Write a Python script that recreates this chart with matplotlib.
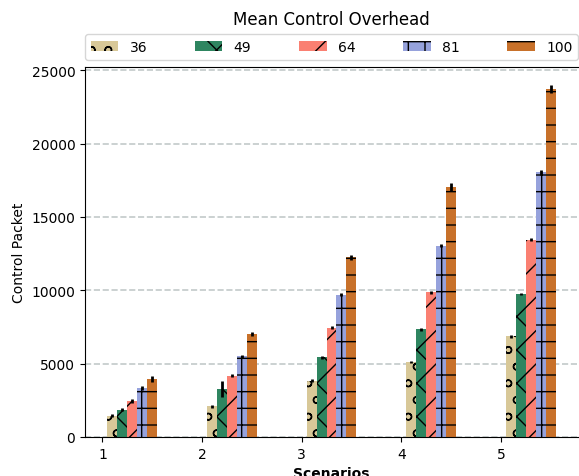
import matplotlib
matplotlib.use("Agg")
import matplotlib.pyplot as plt
import numpy as np

scenarios = [1, 2, 3, 4, 5]
series_labels = ["36", "49", "64", "81", "100"]
vals_36 = [1450, 2110, 3850, 5130, 6860]
vals_49 = [1860, 3270, 5420, 7330, 9740]
vals_64 = [2470, 4180, 7460, 9860, 13440]
vals_81 = [3340, 5500, 9700, 13050, 18030]
vals_100 = [3970, 7000, 12240, 17050, 23750]
err_36 = [120, 100, 100, 80, 100]
err_49 = [120, 550, 120, 80, 80]
err_64 = [120, 100, 100, 100, 100]
err_81 = [120, 100, 120, 120, 200]
err_100 = [200, 140, 150, 260, 270]

colors = ["#d8c898", "#2e8560", "#fa8072", "#96a2dc", "#c8712a"]
hatches = ["o", "x", "/", "+", "-"]

fig = plt.figure(figsize=(5.79, 4.77), dpi=100)
ax = fig.add_axes([85/579, 39/477, (578-85)/579, (438-68)/477])

x = np.array(scenarios, dtype=float)
width = 0.1
all_vals = [vals_36, vals_49, vals_64, vals_81, vals_100]
all_errs = [err_36, err_49, err_64, err_81, err_100]
for i, (v, e) in enumerate(zip(all_vals, all_errs)):
    ax.bar(x + width * (i + 1), v, width, yerr=e, color=colors[i], hatch=hatches[i],
           edgecolor="black", linewidth=0, label=series_labels[i], zorder=2,
           error_kw=dict(ecolor="black", elinewidth=2, capsize=0, zorder=3))

ax.set_xticks(scenarios)
ax.set_yticks([0, 5000, 10000, 15000, 20000, 25000])
ax.yaxis.grid(True, linestyle="--", color="#c2caca", linewidth=1.2, zorder=0)
ax.set_axisbelow(True)
ax.set_xlabel("Scenarios", fontweight="bold", fontsize=10)
ax.set_ylabel("Control Packet", fontsize=10)
ax.spines["right"].set_visible(False)
ax.legend(loc="lower left", bbox_to_anchor=(0, 1.02, 1, 0.1), ncol=5, mode="expand",
          borderaxespad=0, fontsize=10)
fig.text((85+578)/2/579, 1 - 20/477, "Mean Control Overhead", ha="center", va="center", fontsize=12)
fig.savefig("out.png", dpi=100)
